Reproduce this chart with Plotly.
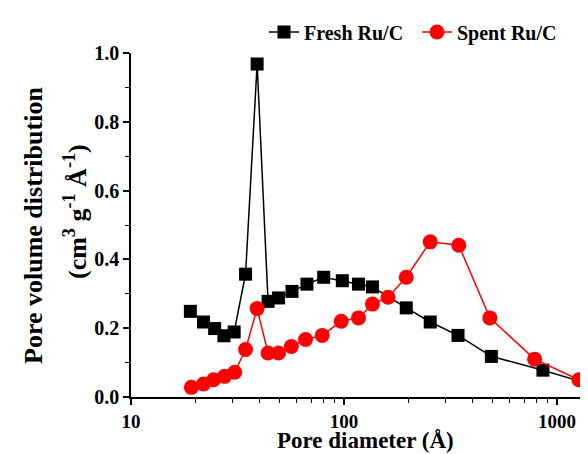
import plotly.graph_objects as go

fresh_d = [19.0, 21.9, 24.7, 27.3, 30.5, 34.5, 39.1, 44, 49.3, 57, 67, 80.3, 98.2, 117, 136, 196, 254, 343, 492, 859, 1400]
fresh_v = [0.249, 0.218, 0.199, 0.178, 0.189, 0.357, 0.968, 0.278, 0.288, 0.307, 0.328, 0.348, 0.338, 0.328, 0.320, 0.259, 0.218, 0.179, 0.118, 0.078, 0.039]

spent_d = [19.2, 21.9, 24.4, 27.5, 30.7, 34.5, 39.1, 44, 49.3, 56.6, 66, 79, 97, 117, 136, 161, 196, 254, 346, 484, 785, 1267]
spent_v = [0.028, 0.038, 0.050, 0.060, 0.072, 0.138, 0.257, 0.128, 0.128, 0.147, 0.167, 0.179, 0.220, 0.230, 0.270, 0.290, 0.348, 0.451, 0.441, 0.230, 0.110, 0.050]

x_major = [10, 100, 1000]
x_major_labels = ["10", "100", "1000"]
x_minor = [m * 10 ** e for e in (1, 2) for m in range(2, 10)]
y_major = [0.0, 0.2, 0.4, 0.6, 0.8, 1.0]
y_major_labels = ["0.0", "0.2", "0.4", "0.6", "0.8", "1.0"]

FONT = "Liberation Serif"

fig = go.Figure()
fig.add_trace(go.Scatter(
    x=fresh_d, y=fresh_v, mode="lines+markers", name="Fresh Ru/C",
    line=dict(color="#000000", width=1.5),
    marker=dict(symbol="square", size=13, color="#000000"),
    cliponaxis=False,
))
fig.add_trace(go.Scatter(
    x=spent_d, y=spent_v, mode="lines+markers", name="Spent Ru/C",
    line=dict(color="#ff0000", width=1.5),
    marker=dict(symbol="circle", size=15, color="#ff0000"),
    cliponaxis=False,
))

W, H = 588, 454
L, R, T, B = 123, 0, 45, 65
pw, ph = W - L - R, H - T - B

fig.update_layout(
    width=W, height=H,
    margin=dict(l=L, r=R, t=T, b=B, autoexpand=False),
    paper_bgcolor="white", plot_bgcolor="white",
    font=dict(family=FONT, size=20, color="black", weight="bold"),
    showlegend=True,
    legend=dict(
        orientation="h", x=(256 - L) / pw, xanchor="left",
        y=(H - B - 24) / ph, yanchor="middle",
        font=dict(family=FONT, size=20, color="black", weight="bold"),
        itemwidth=30, entrywidth=108, entrywidthmode="pixels",
        tracegroupgap=0, bgcolor="rgba(0,0,0,0)",
    ),
    xaxis=dict(
        type="log", range=[1, 1 + (W - R - L) / 213.0],
        showline=True, linecolor="black", linewidth=1.5,
        ticks="outside", ticklen=6, tickwidth=1.5, tickcolor="black",
        tickmode="array", tickvals=x_major, ticktext=x_major_labels,
        tickfont=dict(family=FONT, size=19, color="black", weight="bold"),
        minor=dict(tickmode="array", tickvals=x_minor, ticks="outside", ticklen=4, tickwidth=1.2, tickcolor="black"),
        showgrid=False, zeroline=False, mirror=False,
    ),
    yaxis=dict(
        range=[0, 1.0],
        showline=True, linecolor="black", linewidth=1.5,
        ticks="outside", ticklen=6, tickwidth=1.5, tickcolor="black",
        tickmode="array", tickvals=y_major, ticktext=y_major_labels,
        tickfont=dict(family=FONT, size=20, color="black", weight="bold"),
        minor=dict(tickmode="linear", tick0=0.1, dtick=0.2, ticks="outside", ticklen=4, tickwidth=1.2, tickcolor="black"),
        showgrid=False, zeroline=False, mirror=False,
    ),
    annotations=[
        dict(text="Pore diameter (Å)", xref="paper", yref="paper",
             x=(357 - L) / pw, y=(H - B - 432) / ph, xanchor="center", yanchor="middle",
             showarrow=False, font=dict(family=FONT, size=23, color="black", weight="bold")),
        dict(text="Pore volume distribution", xref="paper", yref="paper",
             x=(25 - L) / pw, y=(H - B - 218) / ph, xanchor="center", yanchor="middle",
             textangle=-90, showarrow=False,
             font=dict(family=FONT, size=26, color="black", weight="bold")),
        dict(text="(cm<sup>3</sup> g<sup>-1</sup> Å<sup>-1</sup>)", xref="paper", yref="paper",
             x=(67 - L) / pw, y=(H - B - 204) / ph, xanchor="center", yanchor="middle",
             textangle=-90, showarrow=False,
             font=dict(family=FONT, size=26, color="black", weight="bold")),
    ],
)

fig.write_html("out.html")
